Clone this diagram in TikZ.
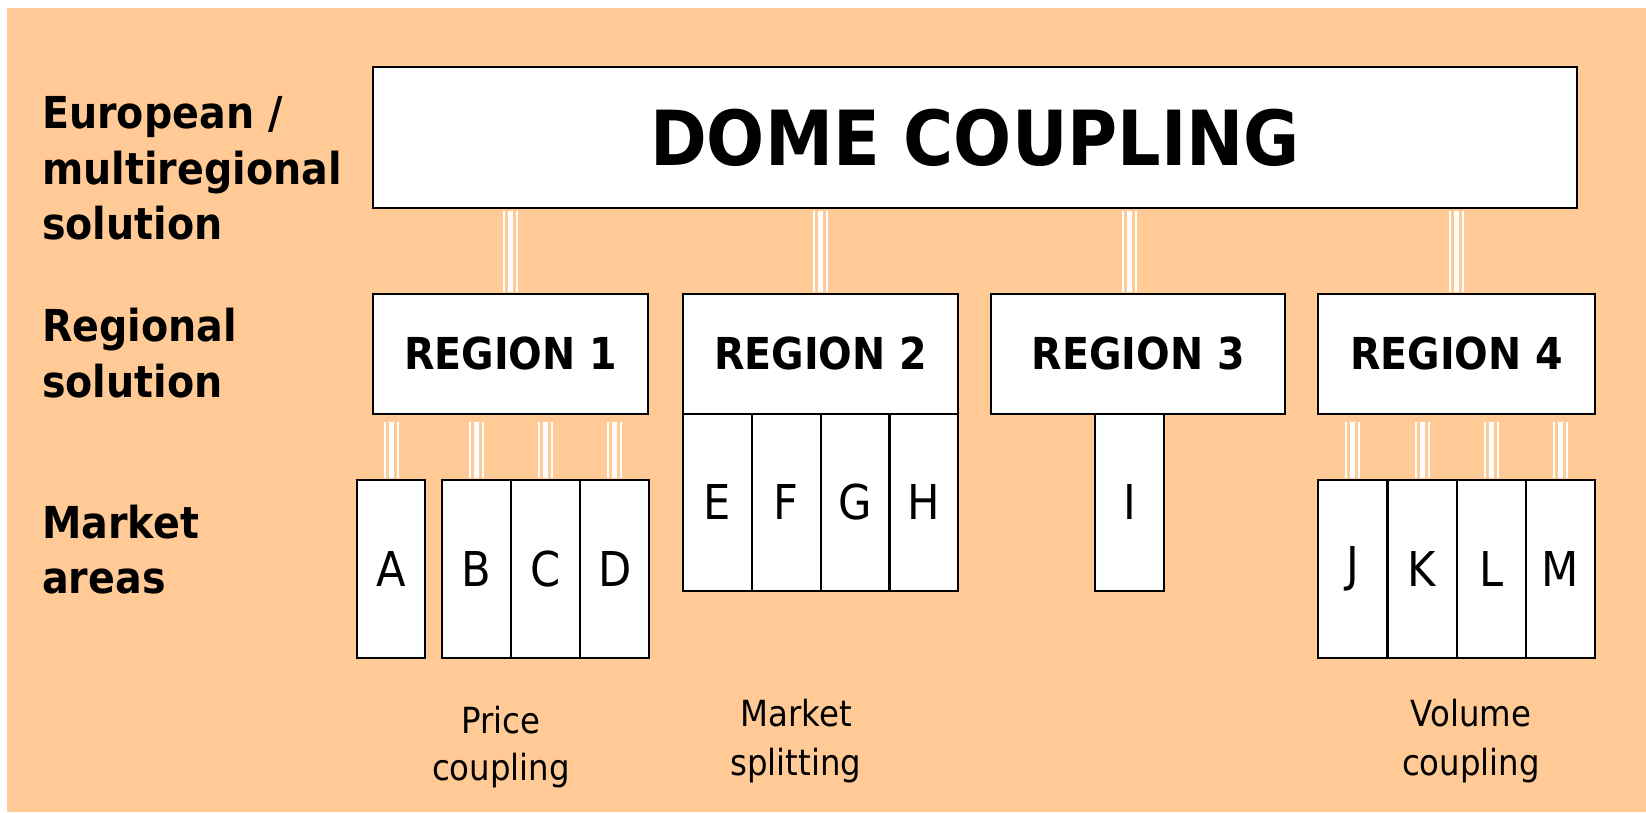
\documentclass[tikz,border=0pt]{standalone}
\usepackage{fontspec}
\setmainfont{DejaVu Sans}[FakeStretch=0.9]
\definecolor{peach}{RGB}{255,202,150}
\newcommand{\tlink}[3][0pt]{%
  \foreach \dx/\w in {-6.5/2,0/5,6.5/2}{%
    \draw[white, line width=\w pt, shorten <=1.2pt, shorten >=#1, transform canvas={xshift=\dx pt}] #2 -- #3;}}
\begin{document}
\begin{tikzpicture}[x=1pt,y=-1pt,
  box/.style={draw=black, line width=2.3pt, fill=white, inner sep=0pt, anchor=north west},
  bigtxt/.style={font=\bfseries\fontsize{76}{80}\selectfont},
  regtxt/.style={font=\bfseries\fontsize{44}{50}\selectfont},
  mktxt/.style={font=\fontsize{48}{50}\selectfont},
  side/.style={font=\bfseries\fontsize{44}{50}\selectfont, anchor=base west, inner sep=0pt},
  captxt/.style={font=\fontsize{36}{40}\selectfont, anchor=base, inner sep=0pt}]
\useasboundingbox (0,0) rectangle (1646,812);
\fill[white] (0,0) rectangle (1646,812);
\fill[peach] (7,8) rectangle (1646,812);

% top
\node[box, bigtxt, minimum width=1204pt, minimum height=141pt] (dome) at (372,66) {DOME COUPLING};
% regions
\node[box, regtxt, minimum width=275pt, minimum height=119.5pt] (r1) at (372,293) {REGION 1};
\node[box, regtxt, minimum width=275pt, minimum height=119.5pt] (r2) at (682,293) {REGION 2};
\node[box, regtxt, minimum width=294pt, minimum height=119.5pt] (r3) at (990,293) {REGION 3};
\node[box, regtxt, minimum width=277pt, minimum height=119.5pt] (r4) at (1317,293) {REGION 4};

% market areas
\node[box, mktxt, minimum width=68pt, minimum height=178pt] (a) at (356,479) {A};
\node[box, mktxt, minimum width=69pt, minimum height=178pt] (b) at (441,479) {B};
\node[box, mktxt, minimum width=69pt, minimum height=178pt] (c) at (510,479) {C};
\node[box, mktxt, minimum width=69pt, minimum height=178pt] (d) at (579,479) {D};

\node[box, mktxt, minimum width=68.75pt, minimum height=177.5pt] (e) at (682,412.5) {E};
\node[box, mktxt, minimum width=68.75pt, minimum height=177.5pt] (f) at (750.75,412.5) {F};
\node[box, mktxt, minimum width=68.75pt, minimum height=177.5pt] (g) at (819.5,412.5) {G};
\node[box, mktxt, minimum width=68.75pt, minimum height=177.5pt] (h) at (888.25,412.5) {H};

\node[box, mktxt, minimum width=69pt, minimum height=177.5pt] (i) at (1094,412.5) {I};

\node[box, mktxt, minimum width=69.25pt, minimum height=178pt] (j) at (1317,479) {J};
\node[box, mktxt, minimum width=69.25pt, minimum height=178pt] (k) at (1386.25,479) {K};
\node[box, mktxt, minimum width=69.25pt, minimum height=178pt] (l) at (1455.5,479) {L};
\node[box, mktxt, minimum width=69.25pt, minimum height=178pt] (m) at (1524.75,479) {M};

% connectors dome -> regions
\tlink[1.2pt]{(r1.north |- dome.south)}{(r1.north)}
\tlink[1.2pt]{(r2.north |- dome.south)}{(r2.north)}
\tlink[1.2pt]{(i.north |- dome.south)}{(i.north |- r3.north)}
\tlink[1.2pt]{(r4.north |- dome.south)}{(r4.north)}

% connectors regions -> market areas
\tlink[7pt]{(a.north)}{(a.north |- r1.south)}
\tlink[7pt]{(b.north)}{(b.north |- r1.south)}
\tlink[7pt]{(c.north)}{(c.north |- r1.south)}
\tlink[7pt]{(d.north)}{(d.north |- r1.south)}
\tlink[7pt]{(j.north)}{(j.north |- r4.south)}
\tlink[7pt]{(k.north)}{(k.north |- r4.south)}
\tlink[7pt]{(l.north)}{(l.north |- r4.south)}
\tlink[7pt]{(m.north)}{(m.north |- r4.south)}

% side labels
\node[side] (s1) at (42,128) {European /};
\node[side] (s2) at (42,184) {multiregional};
\node[side] (s3) at (42,239) {solution};
\node[side] (s4) at (42,341) {Regional};
\node[side] (s5) at (42,397) {solution};
\node[side] (s6) at (42,538) {Market};
\node[side] (s7) at (42,593) {areas};

% bottom labels
\node[captxt] (p1) at (501,733) {Price};
\node[captxt] (p2) at (501,780) {coupling};
\node[captxt] (q1) at (796,726) {Market};
\node[captxt] (q2) at (796,775) {splitting};
\node[captxt] (v1) at (1471,726) {Volume};
\node[captxt] (v2) at (1471,775) {coupling};
\end{tikzpicture}
\end{document}
